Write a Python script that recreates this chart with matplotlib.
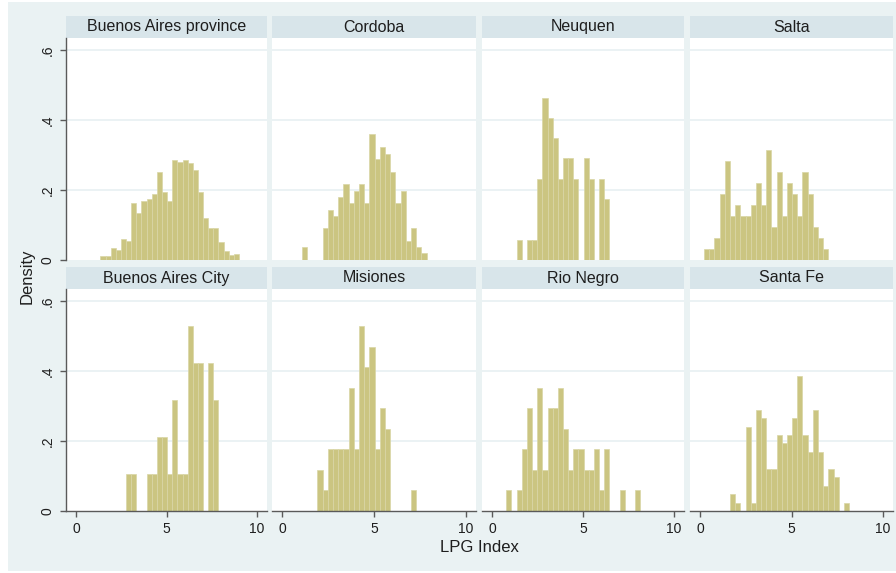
import numpy as np
import matplotlib
matplotlib.use("Agg")
import matplotlib.pyplot as plt
from matplotlib.patches import Rectangle

plt.rcParams['font.family'] = ['Liberation Sans', 'DejaVu Sans']

# Panels, in reading order (two rows of four)
provinces = ["Buenos Aires province", "Cordoba", "Neuquen", "Salta",
             "Buenos Aires City", "Misiones", "Rio Negro", "Santa Fe"]

# Common histogram bins shared by all panels
bin_start = 0.22
bin_width = 0.2832
n_bins = 31

# Density of each bin, per province
dens_ba_province = [0, 0, 0, 0, 0.010, 0.011, 0.033, 0.029, 0.059, 0.054, 0.162,
                    0.135, 0.169, 0.173, 0.189, 0.252, 0.193, 0.169, 0.286, 0.279,
                    0.285, 0.276, 0.257, 0.193, 0.119, 0.090, 0.090, 0.050, 0.026,
                    0.013, 0.017]
dens_cordoba = [0, 0, 0, 0.038, 0, 0, 0, 0.090, 0.143, 0.127, 0.179, 0.216, 0.162,
                0.197, 0.216, 0.162, 0.359, 0.288, 0.322, 0.303, 0.250, 0.162,
                0.197, 0.055, 0.090, 0.037, 0.019, 0, 0, 0, 0]
dens_neuquen = [0, 0, 0, 0, 0.058, 0, 0.058, 0.058, 0.232, 0.464, 0.406, 0.348,
                0.232, 0.290, 0.290, 0.232, 0, 0.290, 0.232, 0, 0.232, 0.174,
                0, 0, 0, 0, 0, 0, 0, 0, 0]
dens_salta = [0.031, 0.031, 0.063, 0.188, 0.283, 0.126, 0.157, 0.126, 0.126, 0.157,
              0.220, 0.157, 0.314, 0.094, 0.251, 0.126, 0.220, 0.188, 0.126, 0.251,
              0.188, 0.094, 0.063, 0.031, 0, 0, 0, 0, 0, 0, 0]
dens_ba_city = [0, 0, 0, 0, 0, 0, 0, 0, 0, 0.106, 0.106, 0, 0, 0.106, 0.106, 0.211,
                0.211, 0.106, 0.317, 0.106, 0.106, 0.528, 0.422, 0.422, 0, 0.422,
                0.317, 0, 0, 0, 0]
dens_misiones = [0, 0, 0, 0, 0, 0, 0.117, 0.059, 0.176, 0.176, 0.176, 0.176, 0.351,
                 0.176, 0.527, 0.410, 0.468, 0.176, 0.293, 0.234, 0, 0, 0, 0,
                 0.059, 0, 0, 0, 0, 0, 0]
dens_rio_negro = [0, 0, 0.059, 0, 0.059, 0.176, 0.293, 0.117, 0.351, 0.117, 0.293,
                  0.293, 0.351, 0.234, 0.117, 0.176, 0.176, 0.117, 0.117, 0.176,
                  0.059, 0.176, 0, 0, 0.059, 0, 0, 0.059, 0, 0, 0]
dens_santa_fe = [0, 0, 0, 0, 0, 0.048, 0.024, 0, 0.241, 0.024, 0.289, 0.265, 0.120,
                 0.120, 0.217, 0.193, 0.217, 0.265, 0.386, 0.217, 0.169, 0.289,
                 0.169, 0.072, 0.120, 0.096, 0, 0.024, 0, 0, 0]

densities = [dens_ba_province, dens_cordoba, dens_neuquen, dens_salta,
             dens_ba_city, dens_misiones, dens_rio_negro, dens_santa_fe]

x_ticks = [0, 5, 10]
x_tick_labels = ["0", "5", "10"]
y_ticks = [0, 0.2, 0.4, 0.6]
y_tick_labels = ["0", ".2", ".4", ".6"]

# Colours
bg_color = "#EAF2F3"
strip_color = "#D8E5EA"
grid_color = "#E7F0F2"
bar_color = "#CBC581"
bar_edge = "#D9D6A6"
axis_color = "#5A5A5A"
text_color = "#1E1E1E"

W, H = 896, 573
fig = plt.figure(figsize=(W / 100, H / 100), dpi=100)
fig.patch.set_facecolor("white")
fig.add_artist(Rectangle((8 / W, 1 - 571 / H), (W - 8) / W, 569 / H,
                         transform=fig.transFigure, facecolor=bg_color,
                         edgecolor="none", zorder=-10))


def px_axes(x0, y0, x1, y1):
    return fig.add_axes([x0 / W, 1 - y1 / H, (x1 - x0) / W, (y1 - y0) / H])


col_left = [66, 272, 482, 690]
col_right = [267, 476, 684, 893]
strip_rows = [(16, 38), (267, 289)]
plot_rows = [(38, 260), (289, 511)]

edges = bin_start + bin_width * np.arange(n_bins)

for i, (name, dens) in enumerate(zip(provinces, densities)):
    r, c = divmod(i, 4)
    x0, x1 = col_left[c], col_right[c]

    # Title strip
    sax = px_axes(x0, strip_rows[r][0], x1, strip_rows[r][1])
    sax.set_facecolor(strip_color)
    sax.set_xticks([])
    sax.set_yticks([])
    for s in sax.spines.values():
        s.set_visible(False)
    sax.text(0.5, 0.5, name, ha="center", va="center", fontsize=11.5,
             color=text_color, transform=sax.transAxes)

    # Histogram panel
    ax = px_axes(x0, plot_rows[r][0], x1, plot_rows[r][1])
    ax.set_facecolor("white")
    for g in y_ticks[1:]:
        ax.axhline(g, color=grid_color, lw=1.2, zorder=0)
    ax.bar(edges, dens, width=bin_width, align="edge", color=bar_color,
           edgecolor=bar_edge, linewidth=0.5, zorder=2)
    ax.set_xlim(-0.55, 10.55)
    ax.set_ylim(0, 0.634)

    for s in ax.spines.values():
        s.set_visible(False)
    ax.tick_params(colors=axis_color, labelcolor=text_color, width=1.0,
                   length=4.5, labelsize=10)

    if c == 0:
        ax.spines["left"].set_visible(True)
        ax.spines["left"].set_color(axis_color)
        ax.spines["left"].set_linewidth(1.0)
        ax.set_yticks(y_ticks)
        ax.set_yticklabels(y_tick_labels, rotation=90, va="center")
    else:
        ax.set_yticks([])

    if r == 1:
        ax.spines["bottom"].set_visible(True)
        ax.spines["bottom"].set_color(axis_color)
        ax.spines["bottom"].set_linewidth(1.0)
        ax.set_xticks(x_ticks)
        ax.set_xticklabels(x_tick_labels)
    else:
        ax.set_xticks([])

fig.text(479 / W, 1 - 548 / H, "LPG Index", ha="center", va="center",
         fontsize=12, color=text_color)
fig.text(27 / W, 1 - 276 / H, "Density", ha="center", va="center",
         rotation=90, fontsize=12, color=text_color)

fig.savefig("out.png", dpi=100, facecolor=fig.get_facecolor())
